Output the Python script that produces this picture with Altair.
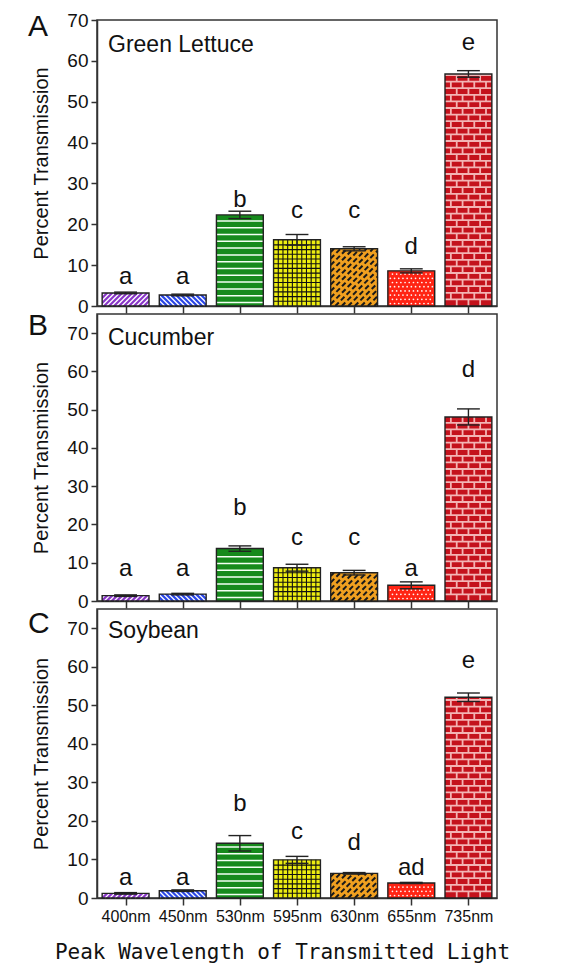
import json
import numpy as np
import pandas as pd
import altair as alt

# ---------------- data ----------------
categories = ["400nm", "450nm", "530nm", "595nm", "630nm", "655nm", "735nm"]
bar_colors = ["#8a36c8", "#2a46e6", "#168a1c", "#eeee10", "#f0a020", "#ff2414", "#c4121c"]
bar_patterns = ["hatch_up", "hatch_down", "hlines", "grid", "weave", "dots", "bricks"]

lettuce_mean = [3.2, 2.7, 22.3, 16.2, 14.0, 8.6, 56.8]
lettuce_err = [0.2, 0.2, 0.9, 1.3, 0.5, 0.5, 0.8]
lettuce_letters = ["a", "a", "b", "c", "c", "d", "e"]
lettuce_letter_y = [7.2, 7.2, 25.9, 23.2, 23.2, 14.5, 64.3]

cucumber_mean = [1.4, 1.8, 13.7, 8.7, 7.4, 4.1, 48.1]
cucumber_err = [0.2, 0.2, 0.7, 0.9, 0.6, 0.9, 2.1]
cucumber_letters = ["a", "a", "b", "c", "c", "a", "d"]
cucumber_letter_y = [8.3, 8.3, 24.2, 16.5, 16.5, 8.3, 60.3]

soybean_mean = [1.2, 1.9, 14.2, 9.9, 6.4, 3.9, 52.1]
soybean_err = [0.2, 0.2, 2.0, 0.9, 0.2, 0.15, 1.1]
soybean_letters = ["a", "a", "b", "c", "d", "ad", "e"]
soybean_letter_y = [5.3, 5.3, 24.3, 17.0, 14.3, 7.9, 61.4]

y_ticks = [0, 10, 20, 30, 40, 50, 60, 70]

# ---------------- layout / style ----------------
PLOT_W = 400
HALF = 0.41          # half bar width in x units
CAP = 0.2            # half error-cap width in x units
XU = PLOT_W / 7.0    # px per x unit
FONT = "Liberation Sans"
INK = "#222222"


def textures(mean, yu):
    segs, dashed, dots = [], [], []
    wp = 2 * HALF * XU
    for i, m in enumerate(mean):
        L = i - HALF
        hp = m * yu
        pat = bar_patterns[i]

        def seg(xa, xb, ya, yb, col, w, target):
            target.append({"x": L + xa / XU, "x2": L + xb / XU,
                           "y": ya / yu, "y2": yb / yu, "c": col, "w": w})

        def diag(spacing, col, w, mirror, target):
            for c in np.arange(-hp + spacing / 2, wp, spacing):
                xa = max(c, 0.0)
                ya = xa - c
                xb = min(c + hp, wp)
                yb = xb - c
                if xb - xa < 0.6:
                    continue
                if mirror:
                    xa, xb = wp - xa, wp - xb
                seg(xa, xb, ya, yb, col, w, target)

        if pat == "hatch_up":
            diag(5.0, "white", 1.3, False, segs)
        elif pat == "hatch_down":
            diag(5.0, "white", 1.3, True, segs)
        elif pat == "hlines":
            for yp in np.arange(3.5, hp - 1.5, 6.8):
                seg(0, wp, yp, yp, "#f4fff4", 1.5, segs)
        elif pat == "grid":
            for yp in np.arange(4.7, hp - 1.0, 4.7):
                seg(0, wp, yp, yp, "#111111", 1.1, segs)
            for xp in np.arange(4.7, wp - 1.0, 4.7):
                seg(xp, xp, 0, hp, "#111111", 1.1, segs)
        elif pat == "weave":
            diag(6.5, "#1a1a1a", 2.0, False, dashed)
        elif pat == "dots":
            for r, yp in enumerate(np.arange(2.5, hp - 1.0, 4.2)):
                off = 2.5 if r % 2 == 0 else 4.6
                for xp in np.arange(off, wp - 1.0, 4.2):
                    dots.append({"x": L + xp / XU, "y": yp / yu})
        elif pat == "bricks":
            h = 6.6
            bw = wp / 4.0
            r = 0
            while r * h < hp - 0.5:
                y0 = r * h
                y1 = min((r + 1) * h, hp)
                if r > 0:
                    seg(0, wp, y0, y0, "#f3b4b4", 1.8, segs)
                start = bw if r % 2 == 0 else bw / 2
                for xp in np.arange(start, wp - 1.0, bw):
                    seg(xp, xp, y0, y1, "#f3b4b4", 1.8, segs)
                r += 1
    return pd.DataFrame(segs), pd.DataFrame(dashed), pd.DataFrame(dots)


def panel(mean, err, letters, letter_y, name, tag, ymax, height, last, tag_y, name_y):
    yu = height / ymax
    df = pd.DataFrame({
        "i": list(range(len(categories))),
        "cat": categories,
        "mean": mean,
        "err": err,
        "letter": letters,
        "ly": letter_y,
        "color": bar_colors,
    })
    df["xl"] = df["i"] - HALF
    df["xr"] = df["i"] + HALF
    df["cl"] = df["i"] - CAP
    df["cr"] = df["i"] + CAP
    df["hi"] = df["mean"] + df["err"]
    df["lo"] = df["mean"] - df["err"]
    df["z"] = 0.0

    xs = alt.Scale(domain=[-0.5, 6.5], nice=False, zero=False)
    ys = alt.Scale(domain=[0, ymax], nice=False)
    label_expr = json.dumps(categories) + "[datum.value]"
    xkw = dict(
        values=list(range(len(categories))), labelExpr=label_expr,
        labels=last, ticks=True, tickSize=7, labelFontSize=16, labelPadding=3,
        labelFont=FONT, grid=False, domain=True,
    )
    if last:
        xkw.update(title="Peak Wavelength of Transmitted Light",
                   titleFont="DejaVu Sans Mono", titleFontSize=21, titleFontWeight="normal",
                   titleX=185, titleY=54, titleAlign="center", titleBaseline="middle")
    else:
        xkw.update(title="")
    xaxis = alt.Axis(**xkw)
    yaxis = alt.Axis(
        values=y_ticks, tickSize=6, labelFontSize=19, labelPadding=3, labelFont=FONT,
        title="Percent Transmission", titleFontSize=20, titleFontWeight="normal",
        titlePadding=15, titleFont=FONT, grid=False,
    )

    def X(f):
        return alt.X(f, scale=xs, axis=xaxis)

    def Y(f):
        return alt.Y(f, scale=ys, axis=yaxis)

    base = alt.Chart(df)
    bars = base.mark_rect().encode(
        x=X("xl:Q"), x2="xr:Q",
        y=Y("mean:Q"), y2="z:Q",
        fill=alt.Fill("color:N", scale=None),
    )

    segs, dashed, dots = textures(mean, yu)
    layers = [bars]
    if len(segs):
        layers.append(alt.Chart(segs).mark_rule().encode(
            x=X("x:Q"), x2="x2:Q",
            y=Y("y:Q"), y2="y2:Q",
            stroke=alt.Stroke("c:N", scale=None),
            strokeWidth=alt.StrokeWidth("w:Q", scale=None),
        ))
    if len(dashed):
        layers.append(alt.Chart(dashed).mark_rule(strokeDash=[5, 3]).encode(
            x=X("x:Q"), x2="x2:Q",
            y=Y("y:Q"), y2="y2:Q",
            stroke=alt.Stroke("c:N", scale=None),
            strokeWidth=alt.StrokeWidth("w:Q", scale=None),
        ))
    if len(dots):
        layers.append(alt.Chart(dots).mark_circle(size=3, color="white", opacity=0.95).encode(
            x=X("x:Q"), y=Y("y:Q"),
        ))

    outline = base.mark_rect(fill="white", fillOpacity=0, stroke=INK, strokeWidth=1.4).encode(
        x=X("xl:Q"), x2="xr:Q", y=Y("mean:Q"), y2="z:Q",
    )
    err_v = base.mark_rule(color=INK, strokeWidth=1.4).encode(
        x=X("i:Q"), y=Y("lo:Q"), y2="hi:Q",
    )
    cap_hi = base.mark_rule(color=INK, strokeWidth=1.4).encode(
        x=X("cl:Q"), x2="cr:Q", y=Y("hi:Q"),
    )
    cap_lo = base.mark_rule(color=INK, strokeWidth=1.4).encode(
        x=X("cl:Q"), x2="cr:Q", y=Y("lo:Q"),
    )
    lett = base.mark_text(font=FONT, fontSize=24, baseline="middle", color="#111").encode(
        x=X("i:Q"), y=Y("ly:Q"), text="letter:N",
    )
    name_t = alt.Chart(pd.DataFrame({"t": [name]})).mark_text(
        font=FONT, fontSize=23, align="left", baseline="alphabetic", color="#111"
    ).encode(x=alt.value(11), y=alt.value(name_y), text="t:N")
    tag_t = alt.Chart(pd.DataFrame({"t": [tag]})).mark_text(
        font=FONT, fontSize=30, align="left", baseline="alphabetic", color="#111"
    ).encode(x=alt.value(-69), y=alt.value(tag_y), text="t:N")

    layers += [outline, err_v, cap_hi, cap_lo, lett, name_t, tag_t]
    return alt.layer(*layers).properties(width=PLOT_W, height=height)


pa = panel(lettuce_mean, lettuce_err, lettuce_letters, lettuce_letter_y,
           "Green Lettuce", "A", 70, 286, False, 16, 32)
pb = panel(cucumber_mean, cucumber_err, cucumber_letters, cucumber_letter_y,
           "Cucumber", "B", 75, 287, False, 21, 31)
pc = panel(soybean_mean, soybean_err, soybean_letters, soybean_letter_y,
           "Soybean", "C", 75, 289, True, 24, 29)

chart = alt.vconcat(pa, pb, pc, spacing=8, bounds="flush").properties(
    padding={"left": 19, "top": 2, "right": 5, "bottom": 45}
).configure_view(
    stroke="#333333", strokeWidth=1.5
).configure_axis(
    domainColor="#333333", tickColor="#333333", labelColor="#111111",
    titleColor="#111111", domainWidth=1.5, tickWidth=1.5,
)

chart.save("out.html", embed_options={"renderer": "svg", "actions": False})
